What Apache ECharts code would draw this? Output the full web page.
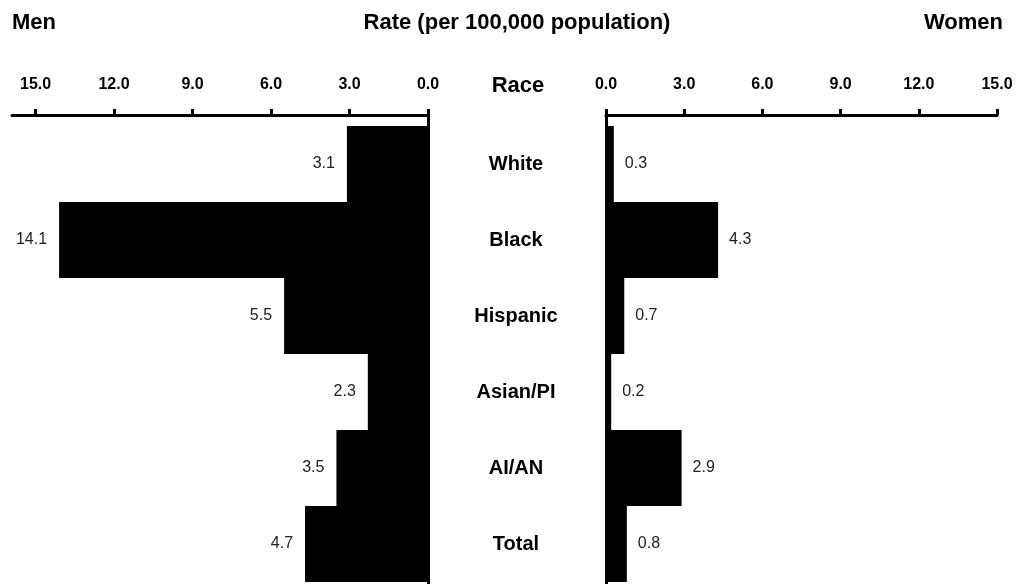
<!DOCTYPE html>
<html><head><meta charset="utf-8">
<script src="https://cdn.jsdelivr.net/npm/echarts@6/dist/echarts.min.js"></script>
<style>html,body{margin:0;padding:0;background:#fff}#c{width:1031px;height:584px}</style>
</head><body><div id="c"></div>
<script>
const categories = ['White','Black','Hispanic','Asian/PI','AI/AN','Total'];
const men = [3.1, 14.1, 5.5, 2.3, 3.5, 4.7];
const women = [0.3, 4.3, 0.7, 0.2, 2.9, 0.8];
const tickValues = [0, 3, 6, 9, 12, 15];

const BOLD = '"Liberation Sans Narrow","Arial Narrow","Liberation Sans",Arial,sans-serif';
const REG = '"Liberation Sans",Arial,sans-serif';
const line = {show:true, lineStyle:{color:'#000', width:3}};

function topAxis(grid, max, inverse){
  return {
    gridIndex: grid, type:'value', min:0, max:max, inverse:inverse, position:'top',
    axisLine: line,
    axisTick: {show:true, customValues: tickValues, length:6, lineStyle:{color:'#000', width:3}},
    axisLabel: {customValues: tickValues, formatter: v => v.toFixed(1), margin:22,
      fontFamily: BOLD, fontWeight:'bold', fontSize:16, color:'#000'},
    splitLine: {show:false}
  };
}
function hiddenX(grid, max, inverse){
  return {gridIndex:grid, type:'value', min:0, max:max, inverse:inverse, show:false, splitLine:{show:false}};
}
const titleStyle = {fontFamily:BOLD, fontWeight:'bold', fontSize:22, color:'#000'};

const chart = echarts.init(document.getElementById('c'));
chart.setOption({
  animation:false,
  title: [
    {text:'Men', left:12, top:12, padding:0, textStyle:titleStyle},
    {text:'Rate (per 100,000 population)', left:517, top:12, padding:0, textAlign:'center', textStyle:titleStyle},
    {text:'Women', right:28, top:12, padding:0, textStyle:titleStyle},
    {text:'Race', left:518, top:75, padding:0, textAlign:'center', textStyle:titleStyle}
  ],
  grid: [
    {left:12, right:603, top:115, bottom:0},
    {left:12, right:603, top:126, bottom:2},
    {left:606, right:34, top:115, bottom:0},
    {left:606, right:34, top:126, bottom:2}
  ],
  xAxis: [
    topAxis(0, 15.9, true),
    hiddenX(1, 15.9, true),
    topAxis(2, 15, false),
    hiddenX(3, 15, false)
  ],
  yAxis: [
    {gridIndex:0, type:'category', data:categories, position:'right', axisLine:line, axisTick:{show:false}, axisLabel:{show:false}},
    {gridIndex:1, type:'category', data:categories, inverse:true, position:'right',
      axisLine:{show:false}, axisTick:{show:false},
      axisLabel:{margin:88, align:'center', fontFamily:BOLD, fontWeight:'bold', fontSize:20, color:'#000'}},
    {gridIndex:2, type:'category', data:categories, position:'left', axisLine:line, axisTick:{show:false}, axisLabel:{show:false}},
    {gridIndex:3, type:'category', data:categories, inverse:true, show:false}
  ],
  series: [
    {type:'bar', name:'Men', xAxisIndex:1, yAxisIndex:1, data:men, barWidth:'100%', barCategoryGap:0,
      itemStyle:{color:'#000'},
      label:{show:true, position:'left', distance:12, fontFamily:REG, fontSize:16, color:'#222', formatter: p => p.value.toFixed(1)}},
    {type:'bar', name:'Women', xAxisIndex:3, yAxisIndex:3, data:women, barWidth:'100%', barCategoryGap:0,
      itemStyle:{color:'#000'},
      label:{show:true, position:'right', distance:11, fontFamily:REG, fontSize:16, color:'#222', formatter: p => p.value.toFixed(1)}}
  ]
});
</script></body></html>
